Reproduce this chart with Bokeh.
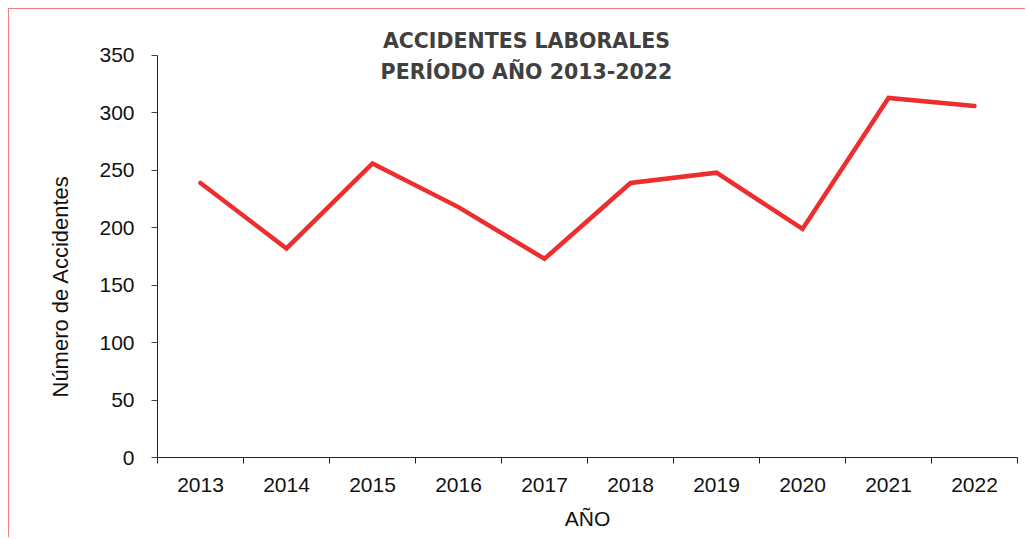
from bokeh.plotting import figure
from bokeh.models import Range1d, FixedTicker, Label, Title
from bokeh.embed import file_html
from bokeh.resources import INLINE

years = ["2013", "2014", "2015", "2016", "2017", "2018", "2019", "2020", "2021", "2022"]
accidents = [239, 182, 256, 218, 173, 239, 248, 199, 313, 306]
y_ticks = [0, 50, 100, 150, 200, 250, 300, 350]
title_lines = ["ACCIDENTES LABORALES", "PERÍODO AÑO 2013-2022"]
x_label = "AÑO"
y_label = "Número de Accidentes"

n = len(years)
xs = [i + 0.5 for i in range(n)]
y_max = 350
y_top = 388.3  # frame extends above the axis (room for the title)

p = figure(width=1017, height=529, output_backend="svg", toolbar_location=None, title=None,
           x_range=Range1d(0, n), y_range=Range1d(0, y_top),
           min_border_left=148, min_border_right=9, min_border_top=2, min_border_bottom=81)
p.outline_line_color = None
p.xgrid.visible = False
p.ygrid.visible = False
p.background_fill_color = "white"
p.border_fill_color = "white"
p.styles = {"border-left": "1px solid #f08080", "border-top": "1px solid #f08080",
            "transform": "translate(8px, 8px)"}

p.line(xs, accidents, line_color="#ee2e2e", line_width=4.5, line_cap="round", line_join="miter")

font = "Liberation Sans"
# x axis
xa = p.xaxis[0]
xa.ticker = FixedTicker(ticks=xs, minor_ticks=list(range(n + 1)))
xa.major_label_overrides = {x: y for x, y in zip(xs, years)}
xa.major_tick_out = 0
xa.major_tick_in = 0
xa.minor_tick_out = 6
xa.minor_tick_in = 0
xa.minor_tick_line_color = "#222222"
xa.axis_line_color = "#222222"
xa.major_label_text_font = font
xa.major_label_text_font_size = "21px"
xa.major_label_text_color = "#111111"
xa.major_label_standoff = 14
xa.axis_label = x_label
xa.axis_label_text_font = font
xa.axis_label_text_font_style = "normal"
xa.axis_label_text_font_size = "21px"
xa.axis_label_text_color = "#111111"
xa.axis_label_standoff = 12

ya = p.yaxis[0]
ya.bounds = (0, y_max)
ya.ticker = FixedTicker(ticks=y_ticks, minor_ticks=[])
ya.major_tick_out = 6
ya.major_tick_in = 0
ya.major_tick_line_color = "#444444"
ya.axis_line_color = "#222222"
ya.major_label_text_font = font
ya.major_label_text_font_size = "21px"
ya.major_label_text_color = "#111111"
ya.major_label_standoff = 17

p.add_layout(Title(text=y_label, align="left", offset=60, standoff=48,
                   text_font=font, text_font_style="normal", text_font_size="22px",
                   text_color="#111111"), "left")

for i, t in enumerate(title_lines):
    p.add_layout(Label(x=4.29, y=363 - i * 27, text=t, text_align="center", text_baseline="middle",
                       text_font="DejaVu Sans", text_font_style="bold", text_font_size="20.5px",
                       text_color="#404040"))

open("out.html", "w").write(file_html(p, INLINE))
